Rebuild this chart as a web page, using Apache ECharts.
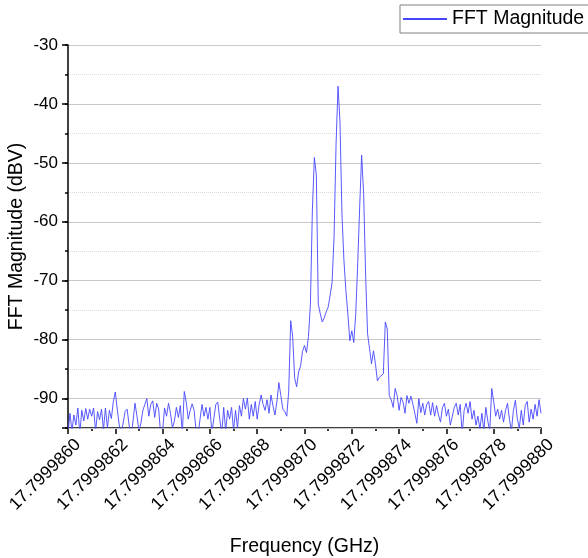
<!DOCTYPE html>
<html>
<head>
<meta charset="utf-8">
<script src="https://cdn.jsdelivr.net/npm/echarts@6/dist/echarts.min.js"></script>
<style>
html,body{margin:0;padding:0;background:#fff;}
#chart{width:588px;height:558px;}
</style>
</head>
<body>
<div id="chart"></div>
<script>
// Frequency grid: offsets (Hz) from 17.7999860 GHz
const freqStartGHz = 17.799986;
const freqSpanHz = 2000;
const binCount = 241;
// FFT magnitude (dBV) per bin
const magnitudeDBV = [
-96.0,-92.5,-95.5,-92.8,-94.5,-91.6,-96.0,-92.0,-93.8,-91.7,
-93.5,-91.8,-93.0,-91.6,-95.5,-92.2,-93.6,-91.8,-95.3,-91.6,
-95.0,-92.0,-93.4,-90.5,-88.9,-91.8,-94.5,-96.0,-95.8,-92.2,
-91.8,-94.5,-96.5,-93.8,-90.8,-93.0,-95.5,-94.2,-92.0,-91.0,
-90.0,-93.0,-91.0,-90.4,-93.2,-90.8,-91.8,-96.0,-95.5,-91.6,
-93.0,-90.8,-92.5,-95.0,-93.8,-91.5,-93.2,-91.2,-96.0,-88.8,
-90.6,-93.5,-92.0,-90.9,-92.0,-95.5,-96.2,-93.5,-91.0,-93.0,
-91.5,-93.5,-91.5,-95.8,-95.6,-91.0,-90.6,-93.5,-96.0,-91.5,
-95.5,-92.0,-93.5,-91.5,-95.5,-92.0,-95.0,-91.2,-93.0,-90.0,
-91.8,-89.9,-93.5,-91.0,-93.0,-90.5,-93.5,-91.0,-89.4,-91.0,
-92.0,-90.2,-92.5,-89.4,-91.2,-92.8,-90.5,-87.3,-89.5,-91.8,
-92.2,-93.0,-88.7,-76.8,-79.5,-86.5,-88.0,-85.5,-84.5,-82.0,
-81.0,-82.2,-79.5,-74.0,-58.0,-49.1,-52.0,-74.0,-75.6,-77.0,
-76.3,-75.3,-74.5,-72.5,-70.3,-62.5,-47.0,-37.0,-43.0,-58.6,
-66.5,-71.7,-75.6,-80.2,-78.5,-80.5,-75.6,-67.1,-57.5,-48.7,
-55.2,-69.0,-79.0,-81.5,-84.1,-81.9,-84.1,-87.0,-86.4,-86.7,
-85.8,-77.0,-78.2,-89.5,-90.2,-91.5,-88.3,-89.5,-92.0,-89.8,
-90.6,-92.5,-89.5,-90.8,-89.6,-91.0,-92.5,-94.2,-90.0,-92.4,
-90.8,-92.8,-91.0,-90.5,-92.8,-90.7,-93.0,-91.2,-92.8,-94.0,
-91.5,-90.8,-93.0,-91.8,-94.5,-93.0,-91.5,-90.8,-92.8,-91.0,
-96.0,-92.0,-90.8,-92.5,-90.5,-93.5,-92.0,-94.5,-93.0,-95.2,
-92.5,-95.5,-91.5,-93.8,-95.5,-88.3,-90.5,-93.0,-91.8,-93.5,
-92.0,-94.0,-92.0,-90.8,-93.5,-95.5,-92.0,-90.3,-93.5,-95.0,
-92.0,-94.5,-91.2,-90.5,-94.0,-91.8,-93.5,-91.0,-93.0,-90.2,
-92.5
];
const seriesName = 'FFT Magnitude';
const xTitle = 'Frequency (GHz)';
const yTitle = 'FFT Magnitude (dBV)';
const yMin = -95, yMax = -30;

const binStepHz = freqSpanHz / (binCount - 1);
const seriesData = magnitudeDBV.map((v, i) => [i * binStepHz, v]);

const FONT = "'Liberation Sans', Arial, sans-serif";
const chart = echarts.init(document.getElementById('chart'), null, {renderer: 'canvas'});
chart.setOption({
  animation: false,
  backgroundColor: '#ffffff',
  textStyle: {fontFamily: FONT},
  grid: {left: 68, right: 47, top: 45, bottom: 130, containLabel: false, outerBoundsMode: 'none'},
  legend: {
    left: 400, top: 5,
    itemWidth: 44, itemHeight: 14, itemGap: 10,
    padding: [4, 14, 4, 2],
    borderColor: '#808080', borderWidth: 1, borderRadius: 0,
    itemStyle: {opacity: 0},
    textStyle: {fontSize: 19.5, color: '#000', fontFamily: FONT},
    data: [seriesName]
  },
  xAxis: {
    type: 'value', min: 0, max: freqSpanHz, interval: 200,
    axisLine: {show: true, onZero: false, lineStyle: {color: '#000', width: 1.5}},
    axisTick: {show: true, length: 6, inside: false, lineStyle: {color: '#000', width: 1.5}},
    minorTick: {show: true, splitNumber: 2, length: 3, lineStyle: {color: '#000', width: 1.5}},
    splitLine: {show: false},
    minorSplitLine: {show: false},
    axisLabel: {
      rotate: 45, fontSize: 17.5, color: '#000', margin: 4, fontFamily: FONT,
      verticalAlign: 'top', padding: [5, 0, 0, 0],
      formatter: v => (freqStartGHz + v * 1e-9).toFixed(7)
    },
    name: xTitle, nameLocation: 'middle', nameGap: 109, nameMoveOverlap: false,
    nameTextStyle: {fontSize: 19.5, color: '#000', fontFamily: FONT}
  },
  yAxis: [
    {
      type: 'value', min: yMin, max: yMax, splitNumber: 6, position: 'left', z: 1,
      axisLine: {show: true, onZero: false, lineStyle: {color: '#000', width: 1.5}},
      axisTick: {show: true, length: 6, lineStyle: {color: '#000', width: 1.5}},
      axisLabel: {
        fontSize: 17, color: '#000', margin: 10, fontFamily: FONT,
        formatter: v => (v % 10 === 0 ? String(v) : '')
      },
      splitLine: {show: true, lineStyle: {color: '#c8c8c8', width: 1}},
      name: yTitle, nameLocation: 'middle', nameGap: 41, nameMoveOverlap: false,
      nameTextStyle: {fontSize: 19.5, color: '#000', fontFamily: FONT}
    },
    {
      type: 'value', min: yMin, max: yMax, interval: 5, position: 'left', z: 0,
      axisLine: {show: false},
      axisTick: {show: true, length: 3, lineStyle: {color: '#000', width: 1.5}},
      axisLabel: {show: false},
      splitLine: {show: true, lineStyle: {color: '#dadada', width: 1, type: 'dotted'}}
    }
  ],
  series: [{
    name: seriesName, type: 'line', data: seriesData,
    xAxisIndex: 0, yAxisIndex: 0,
    symbol: 'none', showSymbol: false, clip: true, sampling: false,
    lineStyle: {color: '#4646ff', width: 0.9},
    itemStyle: {color: '#4646ff'},
    z: 3
  }]
});
</script>
</body>
</html>
